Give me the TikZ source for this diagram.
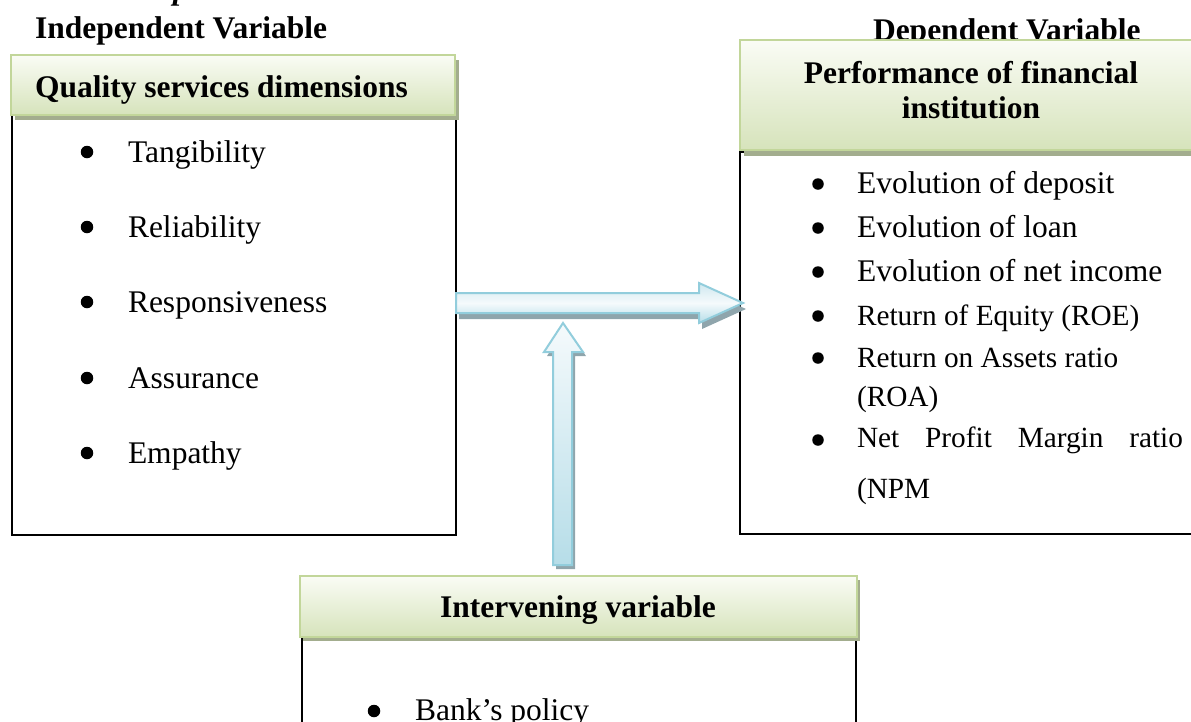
\documentclass[tikz,border=0pt]{standalone}
\usepackage{fontspec}
\setmainfont{Liberation Serif}
\definecolor{htop}{HTML}{FAFCF5}
\definecolor{hbot}{HTML}{D6E3BB}
\definecolor{hborder}{HTML}{C2D69A}
\definecolor{hshadow}{HTML}{A3AD8E}
\definecolor{atop}{HTML}{F5FAFC}
\definecolor{aedge}{HTML}{CFE8EF}
\definecolor{abot}{HTML}{B6DDE8}
\definecolor{aborder}{HTML}{92CDDC}
\definecolor{ashadow}{HTML}{8FA5AC}
\begin{document}
\begin{tikzpicture}[x=1pt,y=-1pt,
  every node/.style={inner sep=0pt, outer sep=0pt},
  big/.style={font=\fontsize{31.5}{36}\selectfont},
  mid/.style={font=\fontsize{29.3}{34}\selectfont},
  bigbold/.style={font=\fontsize{31.5}{36}\selectfont\bfseries},
  frame/.style={draw=black, line width=1.5pt, rectangle},
  headshadow/.style={fill=hshadow, draw=none, rectangle},
  head/.style={top color=htop, bottom color=hbot, draw=hborder, line width=1.8pt, rectangle},
  arrowshadow/.style={fill=ashadow, draw=none},
  arrowbody/.style={draw=aborder, line width=2pt, line join=miter},
  dot/.style={circle, fill=black, minimum size=12.5pt},
  sdot/.style={circle, fill=black, minimum size=11.5pt},
]
\useasboundingbox (0,0) rectangle (1191,721);
\clip (0,0) rectangle (1191,721);

% fragment of a clipped line above
\node[font=\fontsize{31.5}{36}\selectfont\bfseries\itshape, anchor=base west] (frag) at (173,-1) {p};

% titles
\node[bigbold, anchor=base west] (indep) at (35,38) {Independent Variable};
\node[bigbold, anchor=base west] (dep) at (873,40) {Dependent Variable};

% left box
\node[frame, minimum width=444pt, minimum height=420pt] (leftBody) at (234,325) {};
\node[headshadow, minimum width=444pt, minimum height=60pt] (leftShadow) at (237,90) {};
\node[head, minimum width=444pt, minimum height=60pt] (leftHead) at (233,85) {};
\node[bigbold, anchor=base west] (qsd) at (35,97) {Quality services dimensions};

% right box
\node[frame, minimum width=470pt, minimum height=382pt] (rightBody) at (975,343) {};
\node[headshadow, minimum width=470pt, minimum height=110pt] (rightShadow) at (979,101) {};
\node[head, minimum width=470pt, minimum height=110pt] (rightHead) at (975,95) {};
\node[bigbold, anchor=base] (perf1) at (971,83) {Performance of financial};
\node[bigbold, anchor=base] (perf2) at (971,118) {institution};

% bottom box
\node[frame, minimum width=554pt, minimum height=122pt] (botBody) at (579,699) {};
\node[headshadow, minimum width=557pt, minimum height=61pt] (botShadow) at (581.5,610.5) {};
\node[head, minimum width=557pt, minimum height=61pt] (botHead) at (578.5,606.5) {};
\node[bigbold, anchor=base] (interv) at (578,617) {Intervening variable};

% left list
\node[dot] (l1) at (87,152) {};
\node[big, anchor=base west] (t1) at (128,162) {Tangibility};
\node[dot] (l2) at (87,227) {};
\node[big, anchor=base west] (t2) at (128,237) {Reliability};
\node[dot] (l3) at (87,302) {};
\node[big, anchor=base west] (t3) at (128,312) {Responsiveness};
\node[dot] (l4) at (87,378) {};
\node[big, anchor=base west] (t4) at (128,388) {Assurance};
\node[dot] (l5) at (87,453) {};
\node[big, anchor=base west] (t5) at (128,463) {Empathy};

% right list
\node[sdot] (r1) at (818,184) {};
\node[big, anchor=base west] (s1) at (857,193) {Evolution of deposit};
\node[sdot] (r2) at (818,228) {};
\node[big, anchor=base west] (s2) at (857,237) {Evolution of loan};
\node[sdot] (r3) at (818,272) {};
\node[big, anchor=base west] (s3) at (857,281) {Evolution of net income};
\node[sdot] (r4) at (818,316) {};
\node[mid, anchor=base west] (s4) at (857,325) {Return of Equity (ROE)};
\node[sdot] (r5) at (818,358) {};
\node[mid, anchor=base west] (s5) at (857,367) {Return on Assets ratio};
\node[mid, anchor=base west] (s5b) at (857,406) {(ROA)};
\node[sdot] (r6) at (818,440) {};
\node[mid, anchor=base west] (s6) at (857,447) {\makebox[326pt][s]{Net\hfill Profit\hfill Margin\hfill ratio}};
\node[mid, anchor=base west] (s6b) at (857,498) {(NPM};

% bottom list
\node[dot] (m1) at (374,711) {};
\node[big, anchor=base west] (u1) at (415,720) {Bank’s policy};

% horizontal block arrow
\fill[arrowshadow] (459,299) -- (702,299) -- (702,289) -- (746,309) -- (702,329) -- (702,319) -- (459,319) -- cycle;
\draw[arrowbody, top color=aedge, bottom color=abot, middle color=atop]
  (456,293) -- (699,293) -- (699,283) -- (743,303) -- (699,323) -- (699,313) -- (456,313) -- cycle;

% vertical block arrow
\fill[arrowshadow] (556,569) -- (556,356) -- (547,356) -- (566,327) -- (586,356) -- (575,356) -- (575,569) -- cycle;
\draw[arrowbody, top color=atop, bottom color=abot]
  (553,565) -- (553,352) -- (544,352) -- (563,323) -- (583,352) -- (572,352) -- (572,565) -- cycle;
\end{tikzpicture}
\end{document}
